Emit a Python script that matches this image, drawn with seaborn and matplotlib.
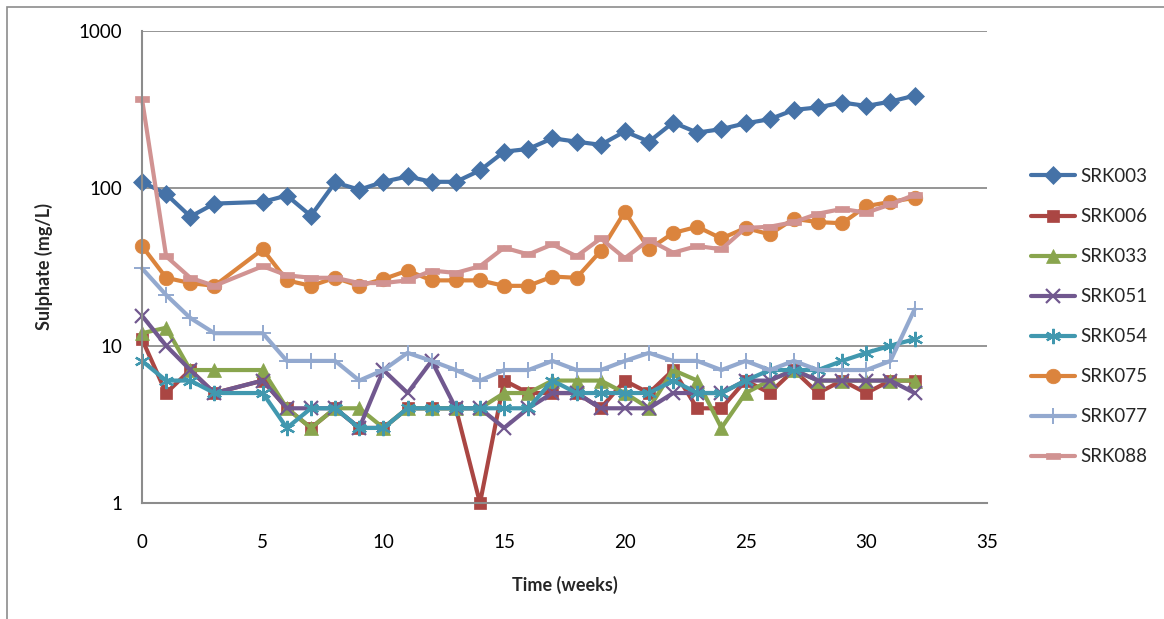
import matplotlib
matplotlib.use("Agg")
import matplotlib.pyplot as plt
import matplotlib.ticker as mticker
from matplotlib.patches import Rectangle
from matplotlib.path import Path
import seaborn as sns

# Sampling weeks (no sample taken in week 4)
weeks = [0, 1, 2, 3, 5, 6, 7, 8, 9, 10, 11, 12, 13, 14, 15, 16, 17, 18, 19, 20,
         21, 22, 23, 24, 25, 26, 27, 28, 29, 30, 31, 32]

# Sulphate concentration (mg/L) per column
srk003 = [110, 92, 66, 80, 82, 90, 67, 109, 98, 110, 119, 110, 110, 130, 171, 178,
          208, 198, 189, 230, 198, 262, 226, 238, 259, 275, 315, 327, 351, 334, 356, 388]
srk006 = [11, 5, 7, 5, 6, 4, 3, 4, 3, 3, 4, 4, 4, 1, 6, 5,
          5, 5, 4, 6, 5, 7, 4, 4, 6, 5, 7, 5, 6, 5, 6, 6]
srk033 = [12, 13, 7, 7, 7, 4, 3, 4, 4, 3, 4, 4, 4, 4, 5, 5,
          6, 6, 6, 5, 4, 7, 6, 3, 5, 6, 7, 6, 6, 6, 6, 6]
srk051 = [15.5, 10, 7, 5, 6, 4, 4, 4, 3, 7, 5, 8, 4, 4, 3, 4,
          5, 5, 4, 4, 4, 5, 5, 5, 6, 6, 7, 6, 6, 6, 6, 5]
srk054 = [8, 6, 6, 5, 5, 3, 4, 4, 3, 3, 4, 4, 4, 4, 4, 4,
          6, 5, 5, 5, 5, 6, 5, 5, 6, 7, 7, 7, 8, 9, 10, 11]
srk075 = [43, 27, 25, 24, 41, 26, 24, 27, 24, 26.5, 30, 26, 26, 26, 24, 24,
          27.5, 27, 40, 71, 41, 52, 57, 48, 56, 51, 64, 61, 60, 77, 82, 87]
srk077 = [31, 21, 15, 12, 12, 8, 8, 8, 6, 7, 9, 8, 7, 6, 7, 7,
          8, 7, 7, 8, 9, 8, 8, 7, 8, 7, 8, 7, 7, 7, 8, 17]
srk088 = [370, 37, 27, 24, 32, 28, 27, 27, 25, 25, 26, 30, 29, 32, 42, 38,
          44, 37, 48, 36, 47, 39, 43, 41, 56, 57, 61, 69, 74, 70, 79, 91]

names = ["SRK003", "SRK006", "SRK033", "SRK051", "SRK054", "SRK075", "SRK077", "SRK088"]
series = [srk003, srk006, srk033, srk051, srk054, srk075, srk077, srk088]
x_ticks = [0, 5, 10, 15, 20, 25, 30, 35]
y_ticks = [1, 10, 100, 1000]

colors = ["#4572A7", "#AA4643", "#89A54E", "#71588F", "#4198AF", "#DB843D", "#93A9CF", "#D19392"]

# Wide flat bar used for the last series
bar_marker = Path([(-1.0, -0.5), (1.0, -0.5), (1.0, 0.5), (-1.0, 0.5), (-1.0, -0.5)],
                  [Path.MOVETO, Path.LINETO, Path.LINETO, Path.LINETO, Path.CLOSEPOLY])
asterisk = (6, 2, 0)
styles = [
    dict(marker="D", markersize=9.5, markeredgewidth=0.5),
    dict(marker="s", markersize=9, markeredgewidth=0.5),
    dict(marker="^", markersize=10, markeredgewidth=0.5),
    dict(marker="x", markersize=9.5, markeredgewidth=1.6),
    dict(marker=asterisk, markersize=11, markeredgewidth=1.6),
    dict(marker="o", markersize=10.5, markeredgewidth=0.5),
    dict(marker="+", markersize=11, markeredgewidth=1.4),
    dict(marker=bar_marker, markersize=10, markeredgewidth=0.5),
]

sns.set_theme(style="white")
plt.rcParams["font.family"] = ["Lato", "DejaVu Sans"]

fig = plt.figure(figsize=(11.64, 6.19), dpi=100)
ax = fig.add_axes([142 / 1164, 1 - 503 / 619, (987 - 142) / 1164, (503 - 31) / 619])

for name, vals, col, st in zip(names, series, colors, styles):
    sns.lineplot(x=weeks, y=vals, ax=ax, color=col, linewidth=3.0, label=name,
                 markeredgecolor=col, markerfacecolor=col, solid_joinstyle="round",
                 clip_on=False, **st)

ax.set_yscale("log")
ax.set_xlim(0, 35)
ax.set_ylim(1, 1000)
ax.set_xticks(x_ticks)
ax.set_yticks(y_ticks)
ax.yaxis.set_major_formatter(mticker.FuncFormatter(lambda v, p: f"{v:g}"))
ax.yaxis.set_minor_locator(mticker.NullLocator())
ax.tick_params(axis="both", length=0, labelsize=13.5, colors="black")
ax.tick_params(axis="y", pad=14)
ax.tick_params(axis="x", pad=22)

ax.grid(True, axis="y", color="#8c8c8c", linewidth=1.3)
ax.set_axisbelow(True)
for side in ["top", "right"]:
    ax.spines[side].set_visible(False)
for side in ["left", "bottom"]:
    ax.spines[side].set_color("#8c8c8c")
    ax.spines[side].set_linewidth(1.5)

ax.set_xlabel("Time (weeks)", fontsize=13, fontweight="bold", labelpad=18)
ax.set_ylabel("Sulphate (mg/L)", fontsize=13, fontweight="bold", labelpad=19)

leg = ax.legend(loc="upper left", bbox_to_anchor=(1031 / 1164, 1 - 168 / 619),
                bbox_transform=fig.transFigure, frameon=False, fontsize=13.5,
                handlelength=2.35, handletextpad=0.3, labelspacing=1.23,
                borderaxespad=0, borderpad=0)

# Outer chart frame
fig.patches.append(Rectangle((6.5 / 1164, -0.1), 1.2, 1.1 - 7 / 619, transform=fig.transFigure,
                             fill=False, edgecolor="#8c8c8c", linewidth=1.2, zorder=0))

fig.savefig("out.png", dpi=100)
